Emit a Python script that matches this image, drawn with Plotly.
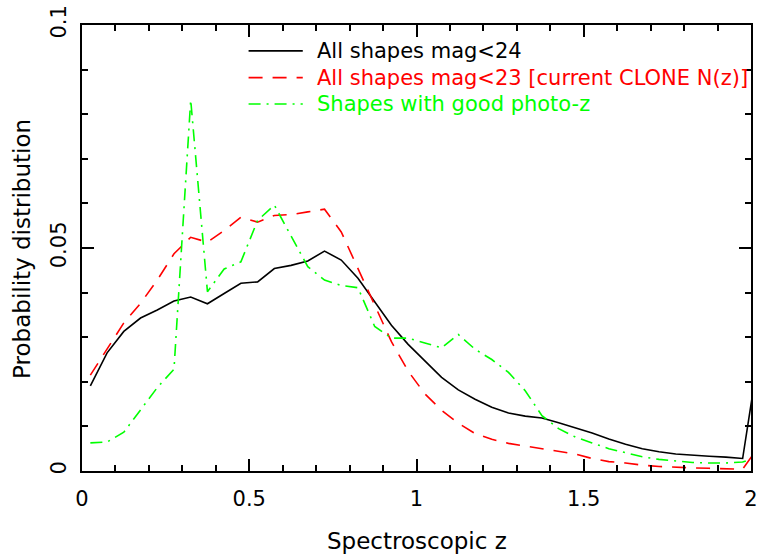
import plotly.graph_objects as go

# Redshift bin centres (spectroscopic z)
z_bins = [0.025, 0.075, 0.125, 0.175, 0.225, 0.275, 0.325, 0.375, 0.425, 0.475,
          0.525, 0.575, 0.625, 0.675, 0.725, 0.775, 0.825, 0.875, 0.925, 0.975,
          1.025, 1.075, 1.125, 1.175, 1.225, 1.275, 1.325, 1.375, 1.425, 1.475,
          1.525, 1.575, 1.625, 1.675, 1.725, 1.775, 1.825, 1.875, 1.925, 1.975,
          2.025]

mag24_all = [0.0191, 0.0265, 0.0313, 0.0343, 0.0361, 0.0381, 0.0390, 0.0375, 0.0398, 0.0421,
             0.0424, 0.0454, 0.0461, 0.0471, 0.0493, 0.0473, 0.0432, 0.0380, 0.0327, 0.0284,
             0.0247, 0.0210, 0.0182, 0.0161, 0.0143, 0.0130, 0.0123, 0.0119, 0.0108, 0.0097,
             0.0085, 0.0072, 0.0060, 0.0050, 0.0043, 0.0038, 0.0035, 0.0033, 0.0031, 0.0028,
             0.0270]

mag23_clone = [0.0215, 0.0275, 0.0332, 0.0376, 0.0428, 0.0487, 0.0524, 0.0513, 0.0539, 0.0569,
               0.0558, 0.0573, 0.0575, 0.0581, 0.0587, 0.0536, 0.0455, 0.0373, 0.0290, 0.0224,
               0.0173, 0.0136, 0.0107, 0.0084, 0.0071, 0.0062, 0.0056, 0.0050, 0.0045, 0.0038,
               0.0028, 0.0021, 0.0018, 0.0013, 0.0010, 0.0008, 0.0007, 0.0006, 0.0005, 0.0004,
               0.0057]

good_photoz = [0.0063, 0.0065, 0.0087, 0.0136, 0.0187, 0.0228, 0.0832, 0.0402, 0.0453, 0.0469,
               0.0562, 0.0596, 0.0526, 0.0458, 0.0428, 0.0416, 0.0411, 0.0324, 0.0298, 0.0298,
               0.0287, 0.0276, 0.0306, 0.0273, 0.0250, 0.0221, 0.0180, 0.0124, 0.0095, 0.0076,
               0.0063, 0.0050, 0.0041, 0.0032, 0.0026, 0.0022, 0.0019, 0.0018, 0.0018, 0.0020,
               0.0033]

series_names = ["All shapes mag<24",
                "All shapes mag<23 [current CLONE N(z)]",
                "Shapes with good photo-z"]
series_colors = ["#000000", "#ff0000", "#00ff00"]
series_dash = ["solid", "14px,10px", "12px,6px,2px,6px"]

x_ticks = [0, 0.5, 1, 1.5, 2]
x_ticktext = ["0", "0.5", "1", "1.5", "2"]
y_ticks = [0, 0.05, 0.1]
y_ticktext = ["0", "0.05", "0.1"]

FONT = "DejaVu Sans"

fig = go.Figure()
for vals, name, col, dash in zip([mag24_all, mag23_clone, good_photoz],
                                 series_names, series_colors, series_dash):
    fig.add_trace(go.Scatter(x=z_bins, y=vals, mode="lines", name=name,
                             line=dict(color=col, width=1.6, dash=dash),
                             showlegend=False))

# Manual legend (line sample + coloured text)
leg_rows_y = [0.942, 0.882, 0.823]
for yy, name, col, dash in zip(leg_rows_y, series_names, series_colors, series_dash):
    fig.add_shape(type="line", xref="paper", yref="paper",
                  x0=0.249, x1=0.33, y0=yy, y1=yy,
                  line=dict(color=col, width=1.6, dash=dash))
    fig.add_annotation(xref="paper", yref="paper", x=0.349, y=yy,
                       text=name, showarrow=False, xanchor="left", yanchor="middle",
                       font=dict(family=FONT, size=21, color=col))

# Axis titles
fig.add_annotation(xref="paper", yref="paper", x=0.5, y=-0.157,
                   text="Spectroscopic z", showarrow=False,
                   xanchor="center", yanchor="middle",
                   font=dict(family=FONT, size=23, color="black"))
fig.add_annotation(xref="paper", yref="paper", x=-0.089, y=0.499,
                   text="Probability distribution", showarrow=False, textangle=-90,
                   xanchor="center", yanchor="middle",
                   font=dict(family=FONT, size=23, color="black"))

axis_common = dict(showline=True, linecolor="black", linewidth=2, mirror="allticks",
                   ticks="inside", tickcolor="black", tickwidth=1.5, ticklen=12,
                   showgrid=False, zeroline=False,
                   tickfont=dict(family=FONT, size=21, color="black"))

fig.update_xaxes(range=[0, 2], tickvals=x_ticks, ticktext=x_ticktext,
                 ticklabelstandoff=8,
                 minor=dict(dtick=0.1, ticks="inside", ticklen=6, tickwidth=1.5,
                            tickcolor="black", showgrid=False),
                 **axis_common)
fig.update_yaxes(range=[0, 0.1], tickvals=y_ticks, ticktext=y_ticktext,
                 tickangle=-90, ticklabelstandoff=6,
                 minor=dict(dtick=0.01, ticks="inside", ticklen=6, tickwidth=1.5,
                            tickcolor="black", showgrid=False),
                 **axis_common)

fig.update_layout(width=763, height=559,
                  margin=dict(l=82, r=5, t=20, b=88),
                  plot_bgcolor="white", paper_bgcolor="white",
                  font=dict(family=FONT, color="black"))

fig.write_html("out.html")
